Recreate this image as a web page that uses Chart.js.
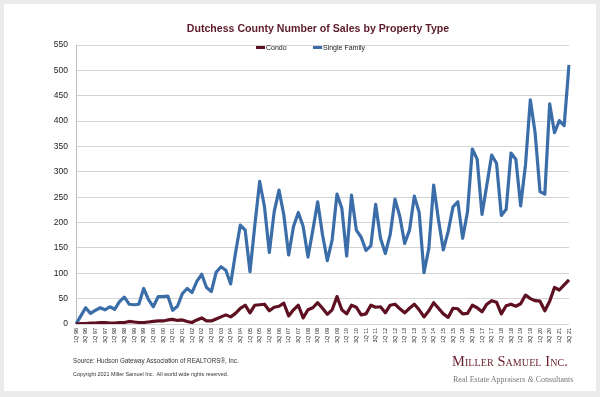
<!DOCTYPE html>
<html>
<head>
<meta charset="utf-8">
<script src="https://cdn.jsdelivr.net/npm/chart.js@4.4.0/dist/chart.umd.min.js"></script>
<style>
  html, body { margin: 0; padding: 0; }
  body { width: 600px; height: 397px; background: #ebebeb; position: relative; overflow: hidden; font-family: "Liberation Sans", Arial, sans-serif; }
  #card { position: absolute; left: 4px; top: 4px; width: 592px; height: 387px; background: #fff; }
  #wrap { position: absolute; left: 0; top: 0; width: 600px; height: 397px; }
  .txt { position: absolute; white-space: nowrap; }
  #title { left: 0; width: 636px; top: 22px; text-align: center; font-weight: bold; font-size: 10.6px; color: #5c1a2b; }
  .leg { top: 44px; font-size: 7px; color: #222; }
  .leg i { display: inline-block; width: 9px; height: 3px; vertical-align: middle; margin-right: 1px; position: relative; top: -1px; }
  #src { left: 73px; top: 357px; font-size: 6.3px; color: #333; }
  #copy { left: 73px; top: 371px; font-size: 5.4px; color: #333; }
  #logo { left: 452px; top: 353px; font-family: "Liberation Serif", "DejaVu Serif", serif; font-variant: small-caps; font-size: 14.4px; color: #6a1f2e; letter-spacing: 0.1px; }
  #tag { left: 453px; top: 375px; font-family: "Liberation Serif", "DejaVu Serif", serif; font-size: 8px; color: #777; }
</style>
</head>
<body>
<div id="card"></div>
<div id="wrap"><canvas id="salesChart" width="600" height="397"></canvas></div>
<div class="txt" id="title">Dutchess County Number of Sales by Property Type</div>
<div class="txt leg" style="left:256px"><i style="background:#5e1020"></i>Condo</div>
<div class="txt leg" style="left:313px"><i style="background:#3b6ea8"></i>Single Family</div>
<div class="txt" id="src">Source: Hudson Gateway Association of REALTORS®, Inc.</div>
<div class="txt" id="copy">Copyright 2021 Miller Samuel Inc.&nbsp; All world wide rights reserved.</div>
<div class="txt" id="logo">Miller Samuel Inc.</div>
<div class="txt" id="tag">Real Estate Appraisers <i>&amp;</i> Consultants</div>

<script>
// Quarter labels 1Q96 .. 3Q21
// ----------------------------------------------
const years = ['96','97','98','99','00','01','02','03','04','05','06','07','08','09','10','11','12','13','14','15','16','17','18','19','20','21'];
const quarters = [];
years.forEach(y => {
    for (let q = 1; q <= 4; q++) {
        if (y === '21' && q > 3) break;
        quarters.push(q + 'Q ' + y);
    }
});

// Number of sales per quarter
// ----------------------------------------------
const condoSales = [
    0, 1, 1, 2, 2, 3, 3, 2, 2, 3, 3, 5, 4, 3, 3, 4, 5, 6, 6, 8, 9, 7, 8, 5, 3, 8, 12, 6, 6, 10, 14, 18, 14,
    21, 31, 37, 22, 37, 38, 39, 26, 33, 35, 41, 16, 28, 37, 12, 28, 32, 42, 31, 19, 28, 54, 28, 20, 37, 33,
    18, 20, 37, 33, 34, 22, 37, 39, 30, 22, 31, 39, 28, 14, 26, 42, 31, 20, 13, 31, 30, 20, 21, 37, 32, 24,
    39, 46, 43, 20, 36, 39, 35, 40, 57, 50, 46, 45, 26, 45, 72, 67, 77, 87
];
const singleFamilySales = [
    0, 16, 32, 21, 27, 32, 28, 34, 29, 44, 53, 39, 38, 39, 70, 48, 34, 54, 54, 55, 27, 35, 60, 70, 62, 84,
    98, 72, 64, 102, 113, 106, 79,
    140, 195, 185, 103, 195, 281, 231, 141, 221, 264, 215, 136, 192, 220, 192, 132, 185, 241, 176, 125, 166,
    256, 228, 134, 254, 185, 171, 145, 154, 236, 169, 139, 176, 246, 212, 159, 185, 252, 220, 101, 149, 274,
    205, 146, 182, 231, 241, 169, 221, 345, 325, 216, 274, 333, 317, 214, 226, 337, 325, 233, 314, 442, 376,
    261, 256, 434, 377, 401, 391, 511
];

const yTicksMax = 550;
const yTicksStep = 50;

const condoColor  = '#5e1020';
const singleColor = '#3b6ea8';
const gridColor   = '#d4d4d4';
const textColor   = '#222';

document.addEventListener('DOMContentLoaded', () => {

    new Chart(document.getElementById('salesChart'), {
        type: 'line',
        data: {
            labels: quarters,
            datasets: [
                {
                    label: 'Condo',
                    data: condoSales,
                    borderColor: condoColor,
                    backgroundColor: condoColor,
                    borderWidth: 3.2,
                    pointRadius: 0
                },
                {
                    label: 'Single Family',
                    data: singleFamilySales,
                    borderColor: singleColor,
                    backgroundColor: singleColor,
                    borderWidth: 3.2,
                    pointRadius: 0
                }
            ]
        },
        options: {
            responsive: false,
            animation: false,
            layout: { padding: { left: 36, right: 31, top: 45, bottom: 49 } },
            plugins: {
                legend: { display: false },
                title: { display: false },
                tooltip: { enabled: false }
            },
            elements: { line: { tension: 0, borderJoinStyle: 'round' } },
            scales: {
                x: {
                    offset: false,
                    grid: { display: false, drawTicks: false },
                    border: { display: false },
                    afterFit: s => { s.height = 24; },
                    ticks: {
                        autoSkip: false,
                        minRotation: 90,
                        maxRotation: 90,
                        padding: 4,
                        color: textColor,
                        font: { family: '"Liberation Sans", Arial', size: 5.5 },
                        callback: (v, i) => (i % 2 === 0 ? quarters[i] : null)
                    }
                },
                y: {
                    min: 0,
                    max: yTicksMax,
                    afterFit: s => { s.width = 40; },
                    grid: { color: gridColor, drawTicks: false },
                    border: { color: '#bdbdbd' },
                    ticks: {
                        stepSize: yTicksStep,
                        padding: 8,
                        color: textColor,
                        font: { family: '"Liberation Sans", Arial', size: 8.5 }
                    }
                }
            }
        }
    });

});
</script>
</body>
</html>
